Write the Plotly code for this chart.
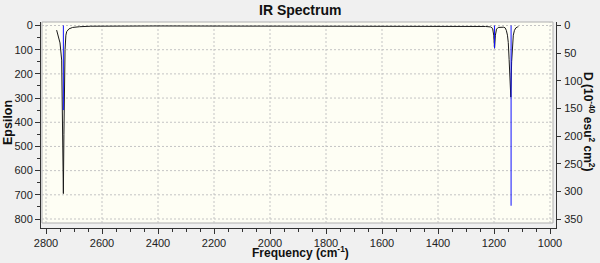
import plotly.graph_objects as go

# --- data ---
curve_freq = [2762, 2756, 2750, 2744, 2742, 2740, 2738, 2736, 2734, 2732, 2729, 2726, 2718, 2705, 2680, 2640,
              2400, 2000, 1600, 1300, 1230, 1212, 1205, 1201, 1198, 1195, 1191, 1185, 1175, 1165, 1160,
              1156, 1152, 1149, 1146, 1143, 1140, 1137, 1134, 1131, 1127, 1122, 1116, 1113]
curve_eps = [19, 45, 72, 143, 350, 600, 695, 450, 200, 100, 40, 25, 14, 8, 5, 3,
             2, 2, 2, 3, 4, 6, 12, 40, 94, 40, 15, 8, 6, 7, 10,
             20, 40, 70, 140, 220, 296, 150, 80, 40, 20, 10, 6, 5]
stick_freq = [2738, 1198, 1139]
stick_D = [153, 41, 326]

x_major = [2800, 2600, 2400, 2200, 2000, 1800, 1600, 1400, 1200, 1000]
eps_ticks = [0, 100, 200, 300, 400, 500, 600, 700, 800]
d_ticks = [0, 50, 100, 150, 200, 250, 300, 350]

# --- geometry ---
W, H = 600, 263
L, R, T, B = 41, 44, 22, 35
pw, ph = W - L - R, H - T - B
frame_x0 = (42 - L) / pw
frame_x1 = (553 - L) / pw
frame_y0 = (H - B - 223) / ph
frame_y1 = 1.0

font = "Liberation Sans, Arial, sans-serif"
grid_col = "#c4c4c4"

fig = go.Figure()

fig.add_trace(go.Scatter(x=curve_freq, y=curve_eps, mode="lines",
                         line=dict(color="#1a1a1a", width=1), yaxis="y", hoverinfo="skip"))

sx, sy = [], []
for f, d in zip(stick_freq, stick_D):
    sx += [f, f, None]
    sy += [0, d, None]
fig.add_trace(go.Scatter(x=sx, y=sy, mode="lines",
                         line=dict(color="#1010ff", width=1), yaxis="y2", hoverinfo="skip"))

shapes = [dict(type="rect", xref="paper", yref="paper", x0=frame_x0, x1=frame_x1, y0=frame_y0, y1=frame_y1,
               fillcolor="#fefef4", line=dict(color="#b0b0b0", width=1), layer="below")]
for xv in x_major:
    shapes.append(dict(type="line", xref="x", yref="paper", x0=xv, x1=xv, y0=frame_y0, y1=frame_y1,
                       line=dict(color=grid_col, width=1, dash="2px,2px"), layer="below"))
for yv in eps_ticks:
    shapes.append(dict(type="line", xref="paper", yref="y", x0=frame_x0, x1=frame_x1, y0=yv, y1=yv,
                       line=dict(color=grid_col, width=1, dash="2px,2px"), layer="below"))

# pixel mapping: 2800 -> px 46, 1000 -> px 550
xs = 504 / 1800
x_left = 2800 + (46 - L) / xs
x_right = 1000 - (L + pw - 550) / xs
ys = (219 - 25.5) / 800
y_top = -(25.5 - T) / ys
y_bot = (H - B - 25.5) / ys
k = 350 / 800

tickfont = dict(family=font, size=11, color="#222")
fig.update_layout(
    width=W, height=H, margin=dict(l=L, r=R, t=T, b=B),
    paper_bgcolor="#f0f0f0", plot_bgcolor="rgba(0,0,0,0)",
    showlegend=False, shapes=shapes,
    xaxis=dict(range=[x_left, x_right], tickvals=x_major, showgrid=False, zeroline=False,
               showline=True, linecolor="#333", linewidth=1, ticks="outside", ticklen=5, tickcolor="#333",
               minor=dict(dtick=50, tick0=1000, ticks="outside", ticklen=3, tickcolor="#333", showgrid=False),
               tickfont=tickfont),
    yaxis=dict(range=[y_bot, y_top], tickvals=eps_ticks, showgrid=False, zeroline=False,
               showline=True, linecolor="#333", linewidth=1, ticks="outside", ticklen=5, tickcolor="#333",
               minor=dict(dtick=50, tick0=0, ticks="outside", ticklen=3, tickcolor="#333", showgrid=False),
               tickfont=tickfont),
    yaxis2=dict(range=[y_bot * k, y_top * k], tickvals=d_ticks, overlaying="y", side="right", anchor="x",
                showgrid=False, zeroline=False, showline=True, linecolor="#333", linewidth=1,
                ticks="outside", ticklen=4, tickcolor="#333", tickfont=tickfont, ticklabelstandoff=1),
    annotations=[
        dict(text="<b>IR Spectrum</b>", xref="paper", yref="paper", x=(300 - L) / pw, y=(H - B - 10) / ph,
             showarrow=False, font=dict(family=font, size=14, color="#111"), xanchor="center", yanchor="middle"),
        dict(text="<b>Frequency (cm<sup>-1</sup>)</b>", xref="paper", yref="paper", x=(300 - L) / pw,
             y=(H - B - 252) / ph, showarrow=False, font=dict(family=font, size=12, color="#111"),
             xanchor="center", yanchor="middle"),
        dict(text="<b>Epsilon</b>", xref="paper", yref="paper", x=(8 - L) / pw, y=(H - B - 123) / ph,
             showarrow=False, textangle=-90, font=dict(family=font, size=12.5, color="#111"),
             xanchor="center", yanchor="middle"),
        dict(text="<b>D (10<sup>-40</sup> esu<sup>2</sup> cm<sup>2</sup>)</b>", xref="paper", yref="paper",
             x=(589 - L) / pw, y=(H - B - 122) / ph, showarrow=False, textangle=90,
             font=dict(family=font, size=12, color="#111"), xanchor="center", yanchor="middle"),
    ],
)

fig.write_html("out.html")
